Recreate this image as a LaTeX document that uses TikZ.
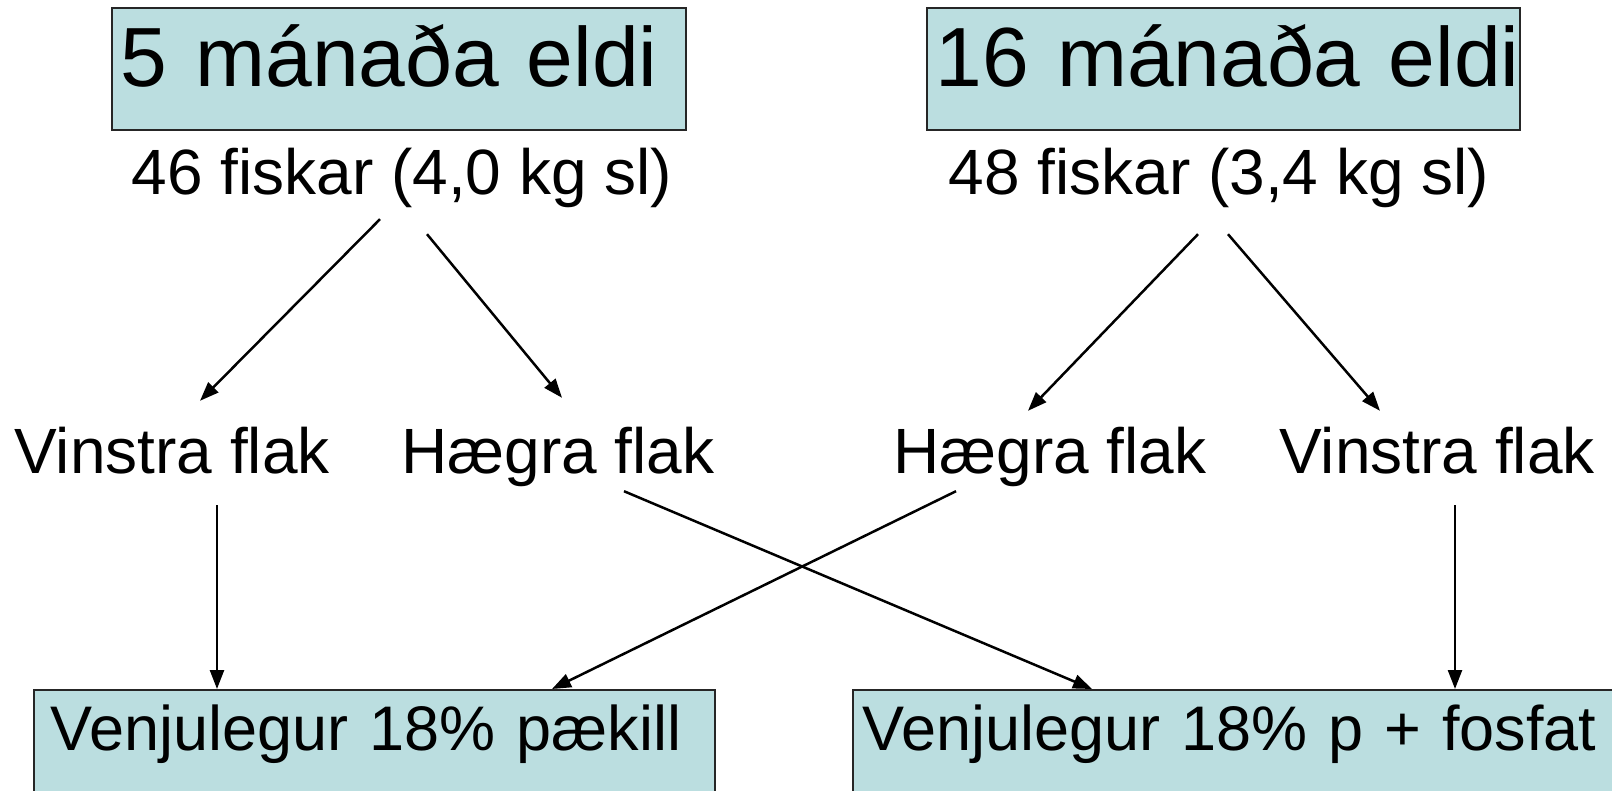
\documentclass[tikz,border=0pt]{standalone}
\usepackage{fontspec}
\setmainfont{Liberation Sans}
\usetikzlibrary{calc,arrows.meta}
\definecolor{flakblue}{RGB}{187,222,224}

\begin{document}
\begin{tikzpicture}[x=1pt, y=-1pt,
	eldibox/.style={draw=black!85, line width=1.6pt, fill=flakblue, anchor=north west, inner ysep=0pt, inner xsep=9pt, align=left, font=\fontsize{84}{90}\selectfont, text height=78.5pt, text depth=43pt},
	paekbox/.style={draw=black!85, line width=1.6pt, fill=flakblue, anchor=north west, inner ysep=0pt, inner xsep=17pt, align=left, font=\fontsize{63}{70}\selectfont, text height=61pt, text depth=80pt},
	lbl/.style={anchor=base, inner sep=0pt, font=\fontsize{64}{70}\selectfont, text height=47pt, text depth=14pt},
	arr/.style={line width=2.5pt, -{Triangle[length=19pt,width=14pt]}}]
				\clip (0, 0) rectangle (1612, 791);
				
				\node[eldibox, text width=556pt] (eldi5) at (111, 7.5) {\mbox{5 mánaða eldi}};
				\node[eldibox, text width=575pt] (eldi16) at (926, 7.5) {\mbox{16 mánaða eldi}};
				
				\node[lbl] (fisk46) at (402, 195) {46 fiskar (4,0 kg sl)};
				\node[lbl] (fisk48) at (1219, 195) {48 fiskar (3,4 kg sl)};
				
				\node[lbl] (vinstri1) at (172, 473) {Vinstra flak};
				\node[lbl] (haegri1) at (558, 473) {Hægra flak};
				\node[lbl] (haegri2) at (1050, 473) {Hægra flak};
				\node[lbl] (vinstri2) at (1437, 473) {Vinstra flak};
				
				\node[paekbox, text width=647pt] (paekill) at (33, 689) {\mbox{Venjulegur 18\% pækill}};
				\node[paekbox, inner xsep=10pt, text width=800pt] (fosfat) at (852, 689) {\mbox{Venjulegur 18\% p + fosfat}};
				
				\draw[arr] ($(fisk46.south)+(-22, 10)$) -- ($(vinstri1.north)+(28, -25)$);
				\draw[arr] ($(fisk46.south)+(25, 25)$) -- ($(haegri1.north)+(4, -28)$);
				\draw[arr] ($(fisk48.south)+(-21, 25)$) -- ($(haegri2.north)+(-22, -15)$);
				\draw[arr] ($(fisk48.south)+(9, 25)$) -- ($(vinstri2.north)+(-57, -15)$);
				
				\draw[arr] ($(vinstri1.south)+(45, 18)$) coordinate (v1) -- (v1 |- paekill.north);
				\draw[arr] ($(haegri1.south)+(66, 4)$) -- ($(fosfat.north west)+(240, 0)$);
				\draw[arr] ($(haegri2.south)+(-94, 4)$) -- ($(paekill.north west)+(519, 0)$);
				\draw[arr] ($(vinstri2.south)+(18, 18)$) coordinate (v2) -- (v2 |- fosfat.north);
			\end{tikzpicture}
\end{document}
